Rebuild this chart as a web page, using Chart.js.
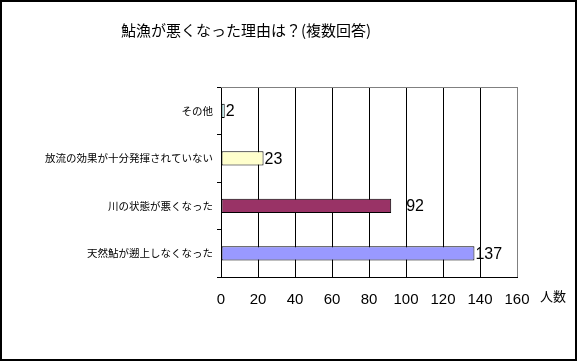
<!DOCTYPE html>
<html>
<head>
<meta charset="utf-8">
<script src="https://cdn.jsdelivr.net/npm/chart.js@4"></script>
<style>
  html, body { margin: 0; padding: 0; background: #fff; }
  #wrap { width: 578px; height: 362px; }
</style>
</head>
<body>
<div id="wrap"><canvas id="barChart" width="578" height="362"></canvas></div>
<script>
const categories = ['その他', '放流の効果が十分発揮されていない', '川の状態が悪くなった', '天然鮎が遡上しなくなった'];
const counts = [2, 23, 92, 137];
const barColors = ['#ccffff', '#ffffcc', '#993366', '#9999ff'];
const xTicks = [0, 20, 40, 60, 80, 100, 120, 140, 160];
const titleText = '鮎漁が悪くなった理由は？(複数回答)';
const axisUnit = '人数';

const jpFont = '"Noto Sans CJK JP", sans-serif';

// frame, title, unit label, top border of plot and value labels
const decorations = {
    id: 'decorations',
    afterDraw (chart) {
        const ctx = chart.ctx;
        const area = chart.chartArea;
        ctx.save();

        ctx.fillStyle = '#000';
        ctx.fillRect(0, 0, 577, 2);
        ctx.fillRect(0, 0, 2, 361);
        ctx.fillRect(575, 0, 2, 361);
        ctx.fillRect(0, 359, 577, 2);

        ctx.strokeStyle = '#808080';
        ctx.lineWidth = 1;
        ctx.beginPath();
        ctx.moveTo(area.left, Math.round(area.top) + 0.5);
        ctx.lineTo(area.right + 1, Math.round(area.top) + 0.5);
        ctx.stroke();

        ctx.fillStyle = '#000';
        ctx.textBaseline = 'middle';
        ctx.textAlign = 'center';
        ctx.font = '15px ' + jpFont;
        ctx.fillText(titleText, 246, 30);

        ctx.textAlign = 'left';
        ctx.font = '13px ' + jpFont;
        ctx.fillText(axisUnit, 540, 296);

        // the label of the third bar sits a little away from its bar end
        const gaps = [1, 1, 15, 1];
        const meta = chart.getDatasetMeta(0);
        ctx.font = '16px "Liberation Sans Narrow", sans-serif';
        meta.data.forEach((bar, i) => {
            ctx.fillText(String(counts[i]), bar.x + gaps[i], bar.y + 1);
        });
        ctx.restore();
    }
};

const chart = new Chart(document.getElementById('barChart').getContext('2d'), {
    type: 'bar',
    data: {
        labels: categories,
        datasets: [{
            data: counts,
            backgroundColor: barColors,
            borderColor: '#000',
            borderWidth: 1,
            borderSkipped: false,
            barPercentage: 0.3,
            categoryPercentage: 1
        }]
    },
    options: {
        indexAxis: 'y',
        responsive: false,
        animation: false,
        layout: { padding: { top: 87, right: 61, left: 0, bottom: 0 } },
        plugins: {
            legend: { display: false },
            tooltip: { enabled: false }
        },
        scales: {
            x: {
                min: 0,
                max: 160,
                afterFit (scale) { scale.height = 85; },
                afterBuildTicks (scale) { scale.ticks = xTicks.map(v => ({ value: v })); },
                grid: {
                    color: ctx => (ctx.tick && ctx.tick.value === 160) ? '#808080' : '#000',
                    drawTicks: false
                },
                border: { color: '#000' },
                ticks: {
                    color: '#000',
                    padding: 14,
                    font: { family: '"Liberation Sans", sans-serif', size: 15 }
                }
            },
            y: {
                afterFit (scale) { scale.width = 221; },
                grid: {
                    offset: true,
                    drawOnChartArea: false,
                    tickLength: 4,
                    color: '#000'
                },
                border: { color: '#000' },
                ticks: {
                    color: '#000',
                    padding: 4,
                    font: { family: jpFont, size: 10.5 }
                }
            }
        }
    },
    plugins: [decorations]
});
</script>
</body>
</html>
